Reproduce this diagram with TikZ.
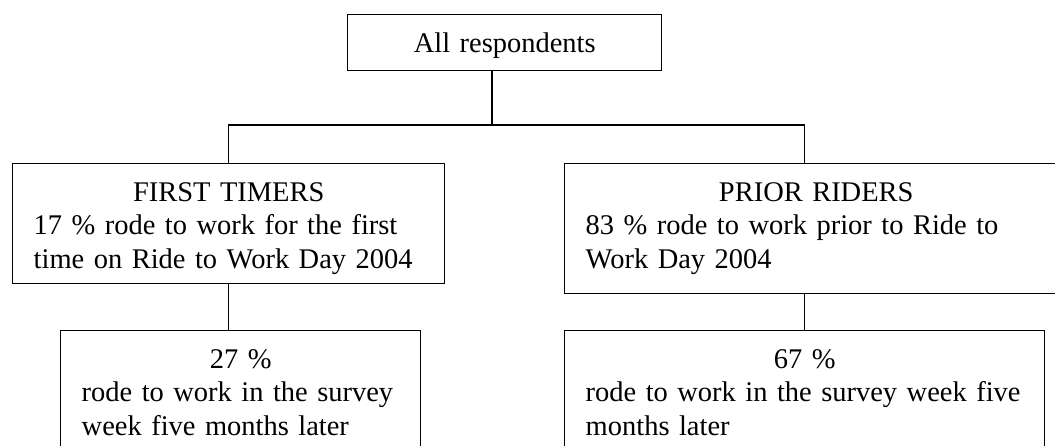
\documentclass[tikz,border=0pt]{standalone}
\usepackage{fontspec}
\setmainfont{Liberation Serif}
\usetikzlibrary{calc}
\newlength\pxunit
\setlength\pxunit{0.411pt}
\tikzset{
  box/.style={draw, line width=0.6pt, anchor=north west, inner xsep=21\pxunit, inner ysep=18\pxunit,
    text height=19.5\pxunit, font=\fontsize{11.7}{13.8}\selectfont},
  link/.style={line width=0.6pt}
}
\begin{document}
\begin{tikzpicture}[x=0.411pt,y=-0.411pt]
    \useasboundingbox (0,0) rectangle (1055,445);
    \clip (0,0) rectangle (1055,445);

    % top
    \node[box, text width=272\pxunit, text depth=0pt] (all) at (347,14) {\centering All respondents\par};

    % second row
    \node[box, text width=390\pxunit, text depth=64.5\pxunit] (first) at (12,163)
        {\centering FIRST TIMERS\par\raggedright 17 \% rode to work for the first\\ time on Ride to Work Day 2004\par};
    \node[box, text width=461\pxunit, text depth=74.5\pxunit] (prior) at (564,163)
        {\centering PRIOR RIDERS\par\raggedright 83 \% rode to work prior to Ride to\\ Work Day 2004\par};

    % third row
    \node[box, text width=318\pxunit, text depth=100\pxunit] (firstlater) at (60,330)
        {\centering 27 \%\par\raggedright rode to work in the survey\\ week five months later\par};
    \node[box, text width=438\pxunit, text depth=100\pxunit] (priorlater) at (564,330)
        {\centering 67 \%\par\raggedright rode to work in the survey week five\\ months later\par};

    % connectors
    \coordinate (split) at (492,125);
    \draw[link] (all.south -| split) -- (split);
    \draw[link] (first.north) |- (split) -| (prior.north -| priorlater.north);
    \draw[link] (first.south) -- (firstlater.north -| first.south);
    \draw[link] (prior.south -| priorlater.north) -- (priorlater.north);
\end{tikzpicture}
\end{document}
